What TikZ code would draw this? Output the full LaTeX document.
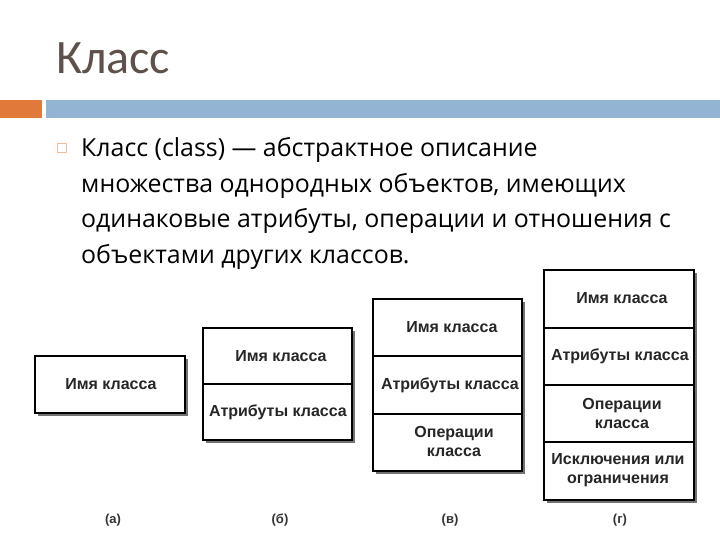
\documentclass[tikz,border=0pt]{standalone}
\usepackage{fontspec}
\setmainfont{Carlito}
\newfontfamily\bodyfont{Open Sans}
\newfontfamily\boxfont{Liberation Sans}
\usepackage{xcolor}
\definecolor{titlegray}{HTML}{5E504A}
\definecolor{barorange}{HTML}{E0793A}
\definecolor{barblue}{HTML}{93B5D3}
\usetikzlibrary{positioning}

\begin{document}
\begin{tikzpicture}[x=1pt,y=-1pt,
		cls/.style={draw=black,fill=white,line width=1.1pt},
		shade/.style={fill=black!55},
		lbl/.style={font=\boxfont\bfseries\fontsize{16}{19}\selectfont,align=center,text=black!85},
		figlabel/.style={font=\boxfont\bfseries\fontsize{13}{15}\selectfont,text=black!80}]
		\useasboundingbox (0,0) rectangle (720,540);
		% title and bars
		\node[anchor=base west,text=titlegray,font=\fontsize{48}{52}\selectfont,inner sep=0] (title) at (56,74) {Класс};
		\fill[barorange] (0,100) rectangle (42,118);
		\fill[barblue] (46,100) rectangle (720,118);
		% bullet
		\draw[barorange!50,line width=0.6pt] (57,143) rectangle (66,152);
		\node[anchor=base west,align=left,inner sep=0,font=\bodyfont\fontsize{24.9}{35.4}\selectfont] (text) at (81,263)
			{Класс (class) — абстрактное описание\\
			множества однородных объектов, имеющих\\
			одинаковые атрибуты, операции и отношения с\\
			объектами других классов.};
		% (a)
		\fill[shade] (38,359) rectangle (188,416);
		\draw[cls] (35,356) rectangle (185,413);
		\node[lbl] (a1) at (111,384) {Имя класса};
		% (b)
		\fill[shade] (206,331) rectangle (355,443);
		\draw[cls] (203,328) rectangle (352,440);
		\draw[line width=1.1pt] (203,384) -- (352,384);
		\node[lbl] (b1) at (281,356) {Имя класса};
		\node[lbl] (b2) at (278,412) {Атрибуты класса};
		% (v)
		\fill[shade] (376,302) rectangle (525,474);
		\draw[cls] (373,299) rectangle (522,471);
		\draw[line width=1.1pt] (373,356) -- (522,356);
		\draw[line width=1.1pt] (373,414) -- (522,414);
		\node[lbl] (v1) at (452,327) {Имя класса};
		\node[lbl] (v2) at (450,385) {Атрибуты класса};
		\node[lbl] (v3) at (454,441) {Операции\\класса};
		% (g)
		\fill[shade] (547,273) rectangle (697,503);
		\draw[cls] (544,270) rectangle (694,500);
		\draw[line width=1.1pt] (544,328) -- (694,328);
		\draw[line width=1.1pt] (544,385) -- (694,385);
		\draw[line width=1.1pt] (544,442) -- (694,442);
		\node[lbl] (g1) at (622,298) {Имя класса};
		\node[lbl] (g2) at (620,356) {Атрибуты класса};
		\node[lbl] (g3) at (622,413) {Операции\\класса};
		\node[lbl] (g4) at (618,470) {Исключения или\\ограничения};
		% captions
		\node[figlabel] (ca) at (113,520) {(а)};
		\node[figlabel] (cb) at (280,520) {(б)};
		\node[figlabel] (cv) at (450,520) {(в)};
		\node[figlabel] (cg) at (620,520) {(г)};
	\end{tikzpicture}
\end{document}
